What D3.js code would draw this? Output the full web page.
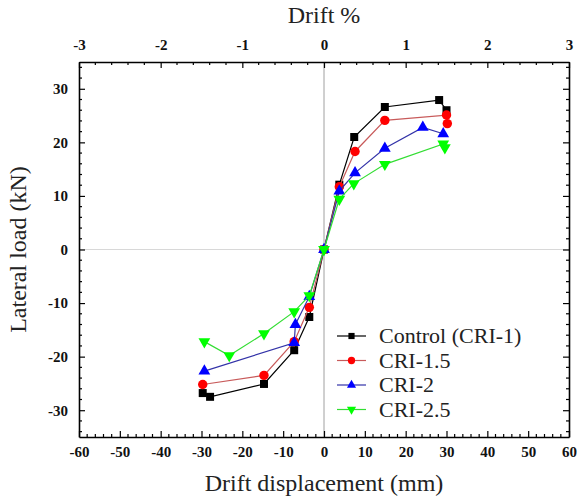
<!DOCTYPE html>
<html>
<head>
<meta charset="utf-8">
<script src="https://cdn.jsdelivr.net/npm/d3@7"></script>
<style>
  body { margin: 0; background: #fff; }
</style>
</head>
<body>
<svg id="chart" width="577" height="500"></svg>
<script>
// series names and [displacement mm, load kN] points
const seriesNames = ['Control (CRI-1)', 'CRI-1.5', 'CRI-2', 'CRI-2.5'];
const controlPts = [[-29.7, -26.8], [-27.9, -27.5], [-14.7, -25.1], [-7.3, -18.8], [-3.6, -12.6], [0, 0],
    [3.75, 12.1], [7.4, 21.0], [14.9, 26.6], [28.2, 27.9], [30, 26.0]];
const cri15Pts = [[-29.7, -25.2], [-14.7, -23.5], [-7.3, -17.2], [-3.6, -10.8], [0, 0],
    [3.75, 11.7], [7.6, 18.3], [14.9, 24.1], [30, 25.1], [30.2, 23.5]];
const cri2Pts = [[-29.3, -22.7], [-7.3, -17.4], [-7.0, -14.0], [-3.6, -8.8], [0, 0],
    [3.75, 10.9], [7.6, 14.3], [14.9, 18.9], [24.2, 22.8], [29.2, 21.6]];
const cri25Pts = [[-29.3, -17.2], [-23.2, -19.8], [-14.7, -15.7], [-7.3, -11.6], [-3.6, -8.6], [0, 0],
    [3.75, 9.4], [7.3, 12.3], [14.9, 15.9], [29.2, 19.7], [29.6, 19.0]];

const xTicks = [-60, -50, -40, -30, -20, -10, 0, 10, 20, 30, 40, 50, 60];
const yTicks = [-30, -20, -10, 0, 10, 20, 30];
const driftTicks = [-3, -2, -1, 0, 1, 2, 3];

const FONT = '"Liberation Serif"';

const styles = [
    { line: '#000000', fill: '#000000', sym: d3.symbolSquare, size: 64, rot: 0 },
    { line: '#c85a5a', fill: '#ff0000', sym: d3.symbolCircle, size: 70, rot: 0 },
    { line: '#3333a8', fill: '#0000ff', sym: d3.symbolTriangle, size: 60, rot: 0 },
    { line: '#33dd33', fill: '#00ff00', sym: d3.symbolTriangle, size: 60, rot: 180 }
];
const allSeries = [controlPts, cri15Pts, cri2Pts, cri25Pts];

const margin = { left: 79, right: 8, top: 62, bottom: 63 };
const W = 577, H = 500;
const svg = d3.select('#chart');

const x = d3.scaleLinear().domain([-60, 60]).range([margin.left, W - margin.right]);
const y = d3.scaleLinear().domain([-35, 35]).range([H - margin.bottom, margin.top]);
const xDrift = d3.scaleLinear().domain([-3, 3]).range(x.range());
const fmt = d => String(d); // plain hyphen minus, no decimals

// zero reference lines
svg.append('line')
    .attr('x1', x(-60)).attr('x2', x(60)).attr('y1', y(0)).attr('y2', y(0))
    .attr('stroke', '#d8d8d8').attr('stroke-width', 1);
svg.append('line')
    .attr('x1', x(0)).attr('x2', x(0)).attr('y1', y(35)).attr('y2', y(-35))
    .attr('stroke', '#a0a0a0').attr('stroke-width', 1);

// minor ticks, drawn by hand since d3 axes draw only one tick size
const minorX = d3.range(-60, 61, 2).filter(v => v % 10 !== 0);
const minorY = d3.range(-34, 35, 2).filter(v => v % 10 !== 0);
const minorDrift = d3.range(-3, 3.01, 0.2).map(v => +v.toFixed(2)).filter(v => Math.abs(v - Math.round(v)) > 1e-6);

const tickG = svg.append('g').attr('stroke', '#000').attr('stroke-width', 1.2);
minorX.forEach(v => {
    tickG.append('line').attr('x1', x(v)).attr('x2', x(v)).attr('y1', y(-35)).attr('y2', y(-35) - 3);
});
minorDrift.forEach(v => {
    tickG.append('line').attr('x1', xDrift(v)).attr('x2', xDrift(v)).attr('y1', y(35)).attr('y2', y(35) + 3);
});
minorY.forEach(v => {
    tickG.append('line').attr('x1', x(-60)).attr('x2', x(-60) + 3).attr('y1', y(v)).attr('y2', y(v));
    tickG.append('line').attr('x1', x(60)).attr('x2', x(60) - 3).attr('y1', y(v)).attr('y2', y(v));
});

function styleAxis(g) {
    g.attr('font-family', null);
    g.select('.domain').attr('stroke-width', 1.6);
    g.selectAll('.tick line').attr('stroke-width', 1.2);
    g.selectAll('.tick text')
        .style('font-family', FONT)
        .style('font-weight', 'bold')
        .style('font-size', '15px')
        .attr('fill', '#111');
}

// bottom axis
svg.append('g')
    .attr('transform', `translate(0,${y(-35)})`)
    .call(d3.axisBottom(x).tickValues(xTicks).tickFormat(fmt).tickSizeInner(-6).tickSizeOuter(0).tickPadding(9))
    .call(styleAxis);

// top axis (drift %)
svg.append('g')
    .attr('transform', `translate(0,${y(35)})`)
    .call(d3.axisTop(xDrift).tickValues(driftTicks).tickFormat(fmt).tickSizeInner(-6).tickSizeOuter(0).tickPadding(12))
    .call(styleAxis);

// left axis
svg.append('g')
    .attr('transform', `translate(${x(-60)},0)`)
    .call(d3.axisLeft(y).tickValues(yTicks).tickFormat(fmt).tickSizeInner(-6).tickSizeOuter(0).tickPadding(11))
    .call(styleAxis);

// right axis
svg.append('g')
    .attr('transform', `translate(${x(60)},0)`)
    .call(d3.axisRight(y).tickValues(yTicks).tickSizeInner(-6).tickSizeOuter(0).tickFormat(''))
    .call(styleAxis);

// series
const line = d3.line().x(d => x(d[0])).y(d => y(d[1]));
allSeries.forEach((pts, i) => {
    const st = styles[i];
    const g = svg.append('g');
    g.append('path')
        .datum(pts)
        .attr('d', line)
        .attr('fill', 'none')
        .attr('stroke', st.line)
        .attr('stroke-width', 1.2);
    g.selectAll('path.m')
        .data(pts)
        .join('path')
        .attr('class', 'm')
        .attr('d', d3.symbol().type(st.sym).size(st.size))
        .attr('transform', d => `translate(${x(d[0])},${y(d[1])}) rotate(${st.rot})`)
        .attr('fill', st.fill);
});

// legend
const legend = svg.append('g').attr('transform', 'translate(337,336)');
seriesNames.forEach((name, i) => {
    const st = styles[i];
    const row = legend.append('g').attr('transform', `translate(0,${i * 24.5})`);
    row.append('line').attr('x1', 0).attr('x2', 29).attr('y1', 0).attr('y2', 0)
        .attr('stroke', st.line).attr('stroke-width', 1.2);
    row.append('path')
        .attr('d', d3.symbol().type(st.sym).size(st.size * 0.6))
        .attr('transform', `translate(14.5,0) rotate(${st.rot})`)
        .attr('fill', st.fill);
    row.append('text').attr('x', 42).attr('y', 7)
        .style('font-family', FONT).style('font-size', '22px')
        .attr('fill', '#222').text(name);
});

// axis titles
svg.append('text')
    .attr('x', x(0)).attr('y', 23)
    .style('font-family', FONT).style('font-size', '24px')
    .attr('text-anchor', 'middle').attr('fill', '#222')
    .text('Drift %');
svg.append('text')
    .attr('x', x(0)).attr('y', 491)
    .style('font-family', FONT).style('font-size', '24px')
    .attr('text-anchor', 'middle').attr('fill', '#222')
    .text('Drift displacement (mm)');
svg.append('text')
    .attr('transform', `translate(26,${y(0)}) rotate(-90)`)
    .style('font-family', FONT).style('font-size', '24px')
    .attr('text-anchor', 'middle').attr('fill', '#222')
    .text('Lateral load (kN)');
</script>
</body>
</html>
